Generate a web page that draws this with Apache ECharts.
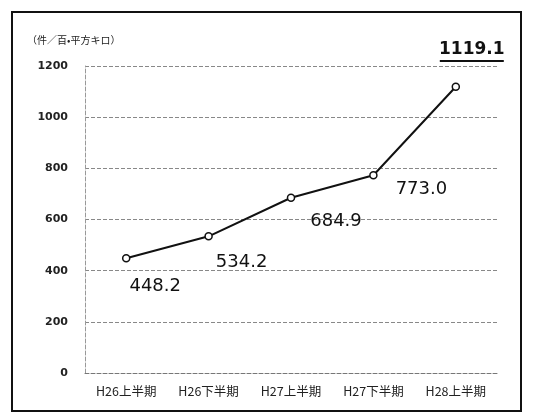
<!DOCTYPE html>
<html><head><meta charset="utf-8">
<script src="https://cdn.jsdelivr.net/npm/echarts@6/dist/echarts.min.js"></script>
<style>html,body{margin:0;padding:0;background:#fff}#c{width:545px;height:416px}</style>
</head><body><div id="c"></div>
<script>
const categories = ['H26上半期','H26下半期','H27上半期','H27下半期','H28上半期'];
const values = [448.2, 534.2, 684.9, 773.0, 1119.1];
const labelTexts = ['448.2','534.2','684.9','773.0','1119.1'];
const yTitle = '（件／百•平方キロ）';

const labelOffsets = [[29,10],[33,8],[45,5],[48,-4],[16,-56]];
const chart = echarts.init(document.getElementById('c'));
const data = values.map((v,i)=>({
  value: v,
  label: {
    show: true,
    position: 'bottom',
    offset: labelOffsets[i],
    formatter: i === 4 ? '{a|' + labelTexts[i] + '}\n{u|}' : labelTexts[i],
    rich: i === 4 ? {a:{fontSize:17,fontWeight:'bold',color:'#111',fontFamily:'DejaVu Sans',lineHeight:20},u:{width:64,height:2,backgroundColor:'#111'}} : undefined
  }
}));
chart.setOption({
  animation:false,
  backgroundColor:'#fff',
  graphic:[{type:'rect',shape:{x:12,y:12,width:509,height:399},style:{fill:'none',stroke:'#111',lineWidth:2}}],
  title:{text:yTitle,left:22,top:30,textStyle:{fontSize:10,fontWeight:'normal',color:'#222',fontFamily:'Noto Sans CJK JP'}},
  grid:{left:85,right:48,top:66,bottom:43},
  xAxis:{type:'category',data:categories,boundaryGap:true,
    axisLine:{lineStyle:{color:'#777',type:'dashed',width:1}},
    axisTick:{show:false},
    axisLabel:{fontSize:12.5,color:'#222',margin:12,fontFamily:'Noto Sans CJK JP'}},
  yAxis:{type:'value',min:0,max:1200,interval:200,
    axisLine:{show:true,lineStyle:{color:'#999',type:'dashed'}},
    axisTick:{show:false},
    axisLabel:{fontSize:11,color:'#222',fontWeight:'bold',margin:17,fontFamily:'DejaVu Sans',formatter:v=>String(v)},
    splitLine:{lineStyle:{color:'#888',type:'dashed',width:1}}},
  series:[{type:'line',data:data,symbol:'circle',symbolSize:7,
    itemStyle:{color:'#fff',borderColor:'#111',borderWidth:1.5},
    lineStyle:{color:'#111',width:2},
    label:{show:true,color:'#111',fontSize:18,fontFamily:'DejaVu Sans'}}]
});
</script></body></html>
